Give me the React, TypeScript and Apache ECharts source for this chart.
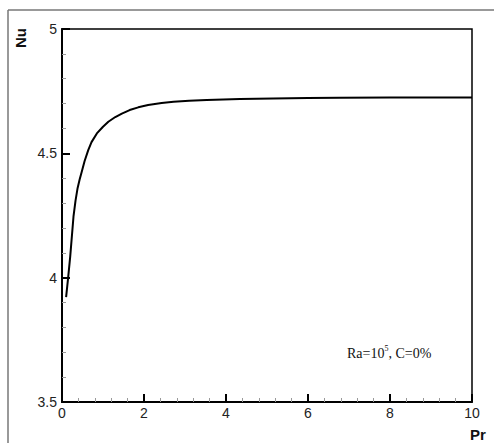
import React, { useEffect, useRef } from "react";
import * as echarts from "echarts";

const prValues = [0.1, 0.15, 0.2, 0.28, 0.33, 0.38, 0.43, 0.48, 0.55, 0.64, 0.72, 0.85, 1.0, 1.13, 1.3, 1.46, 1.65, 1.86, 2.1, 2.43, 2.72, 3.1, 3.53, 4.34, 5.15, 6.0, 6.78, 8.0, 9.0, 10.0];
const nuValues = [3.922, 4.0, 4.085, 4.245, 4.31, 4.36, 4.395, 4.425, 4.468, 4.513, 4.545, 4.58, 4.607, 4.627, 4.646, 4.66, 4.674, 4.685, 4.694, 4.702, 4.707, 4.711, 4.714, 4.718, 4.721, 4.723, 4.724, 4.725, 4.725, 4.725];
const xAxisName = "Pr";
const yAxisName = "Nu";
const annotation = "Ra=10";

export default function App() {
  const ref = useRef<HTMLDivElement>(null);
  useEffect(() => {
    if (!ref.current) return;
    const chart = echarts.init(ref.current, null, { renderer: "svg" });
    const data = prValues.map((x, i) => [x, nuValues[i]]);
    chart.setOption({
      animation: false,
      backgroundColor: "#fff",
      grid: {
        left: 62,
        top: 29,
        width: 410,
        height: 373,
        show: true,
        borderColor: "#000",
        borderWidth: 1.5,
        backgroundColor: "transparent",
      },
      xAxis: {
        type: "value",
        min: 0,
        max: 10,
        interval: 2,
        axisLine: { show: true, onZero: false, lineStyle: { color: "#000", width: 2 } },
        axisTick: { show: true, inside: true, length: 8, lineStyle: { color: "#000", width: 2 } },
        minorTick: { show: true, splitNumber: 5, length: 4, lineStyle: { color: "#999", width: 1 } },
        splitLine: { show: false },
        axisLabel: { color: "#222", fontFamily: "Liberation Sans, Arial", fontSize: 14, margin: 4 },
      },
      yAxis: {
        type: "value",
        min: 3.5,
        max: 5,
        interval: 0.5,
        axisLine: { show: true, onZero: false, lineStyle: { color: "#000", width: 2 } },
        axisTick: { show: true, inside: true, length: 8, lineStyle: { color: "#000", width: 2 } },
        minorTick: { show: true, splitNumber: 5, length: 4, lineStyle: { color: "#999", width: 1 } },
        splitLine: { show: false },
        axisLabel: { color: "#222", fontFamily: "Liberation Sans, Arial", fontSize: 14, margin: 5 },
      },
      series: [
        {
          type: "line",
          data,
          showSymbol: false,
          smooth: false,
          lineStyle: { color: "#000", width: 2, join: "round" },
        },
      ],
      graphic: [
        { type: "line", shape: { x1: 8, y1: 10, x2: 494, y2: 10 }, style: { stroke: "#777", lineWidth: 1.5 } },
        { type: "line", shape: { x1: 8, y1: 10, x2: 8, y2: 443 }, style: { stroke: "#777", lineWidth: 1.5 } },
        {
          type: "text",
          x: 20,
          y: 38,
          rotation: Math.PI / 2,
          style: {
            text: yAxisName,
            font: "bold 15px 'Liberation Sans', Arial",
            fill: "#111",
            align: "center",
            verticalAlign: "middle",
          },
        },
        {
          type: "text",
          x: 478,
          y: 434,
          style: {
            text: xAxisName,
            font: "bold 15px 'Liberation Sans', Arial",
            fill: "#111",
            align: "center",
            verticalAlign: "middle",
          },
        },
        {
          type: "text",
          x: 347,
          y: 352,
          style: {
            text: "{a|" + annotation + "}{s|5}{a|, C=0%}",
            rich: {
              a: { fontFamily: "Liberation Serif, Times New Roman", fontSize: 14, fill: "#111", verticalAlign: "bottom" },
              s: { fontFamily: "Liberation Serif, Times New Roman", fontSize: 8, fill: "#111", padding: [0, 0, 8, 0], verticalAlign: "top" },
            },
            verticalAlign: "middle",
          },
        },
      ],
    });
    return () => chart.dispose();
  }, []);
  return (
    <div
      ref={ref}
      style={{ position: "absolute", left: 0, top: 0, width: 494, height: 443 }}
    />
  );
}
